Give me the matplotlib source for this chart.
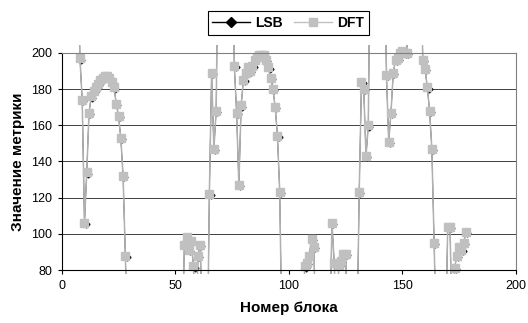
import matplotlib
matplotlib.use("Agg")
import matplotlib.pyplot as plt
import matplotlib.transforms as mtransforms
from matplotlib.patches import Rectangle
from matplotlib.lines import Line2D

plt.rcParams['font.family'] = ['Liberation Sans', 'DejaVu Sans']

# block numbers and metric values (values outside 80..200 are only seen as clipped lines)
blocks = [7, 8, 9, 10, 11, 12, 13, 14, 15, 16, 17, 18, 19, 20, 21, 22, 23, 24, 25, 26, 27, 28, 29,
          52, 53, 54, 55, 56, 57, 58, 59, 60, 61, 62, 63, 64, 65, 66, 67, 68, 69,
          75, 76, 77, 78, 79, 80, 81, 82, 83, 84, 85, 86, 87, 88, 89, 90, 91, 92, 93, 94, 95, 96, 97,
          106, 107, 108, 109, 110, 111, 112,
          118, 119, 120, 121, 122, 123, 124, 125, 126,
          130, 131, 132, 133, 134, 135, 136,
          142, 143, 144, 145, 146, 147, 148, 149, 150, 151, 152, 153,
          158, 159, 160, 161, 162, 163, 164, 165,
          169, 170, 171, 172, 173, 174, 175, 176, 177, 178]
dft = [260, 197, 174, 106, 134, 167, 176, 179, 181, 183, 185, 186, 187, 187, 186, 184, 181, 172, 165, 153, 132, 88, 40,
       40, 40, 94, 98, 91, 96, 82, 40, 88, 94, 40, 40, 20, 122, 189, 147, 168, 280,
       280, 193, 167, 127, 171, 185, 189, 192, 190, 193, 196, 198, 199, 199, 199, 196, 192, 186, 180, 170, 154, 123, 40,
       40, 82, 84, 88, 97, 93, 40,
       40, 106, 84, 40, 83, 85, 89, 89, 40,
       40, 123, 184, 180, 143, 160, 280,
       280, 188, 151, 167, 189, 196, 197, 200, 201, 200, 200, 280,
       280, 196, 191, 181, 168, 147, 95, 40,
       40, 104, 104, 40, 81, 88, 93, 91, 95, 101]
lsb = list(dft)

fig = plt.figure(figsize=(5.28, 3.23), dpi=100)
ax = fig.add_axes([0.117, 0.164, 0.860, 0.672])

clip = Rectangle((0, -0.02), 1, 1.055, transform=ax.transAxes)

# LSB line lies under the DFT line; its markers peek out a pixel below-right
shift = mtransforms.offset_copy(ax.transData, fig=fig, x=1.2, y=-1.2, units='dots')
l0, = ax.plot(blocks, lsb, color='black', lw=0.6)
l1, = ax.plot(blocks, lsb, ls='none', marker='D', ms=3.5,
              mfc='black', mec='black', transform=shift)
l2, = ax.plot(blocks, dft, color='#b0b0b0', lw=1.1, marker='s', ms=5.5,
              mfc='#c0c0c0', mec='#c0c0c0')
for ln in (l0, l1, l2):
    ln.set_clip_path(clip)

ax.set_xlim(0, 200)
ax.set_ylim(80, 200)
ax.set_xticks([0, 50, 100, 150, 200])
ax.set_yticks(range(80, 201, 20))
ax.yaxis.grid(True, color='#404040', lw=0.7)
ax.set_axisbelow(True)
for s in ('top', 'right'):
    ax.spines[s].set_color('#808080')
for s in ('left', 'bottom'):
    ax.spines[s].set_color('black')
ax.tick_params(direction='out', length=3, labelsize=9, colors='black', pad=4)

ax.set_xlabel('Номер блока', fontsize=11, fontweight='bold', labelpad=7)
ax.set_ylabel('Значение метрики', fontsize=11, fontweight='bold', labelpad=4)

h1 = Line2D([], [], color='black', lw=1, marker='D', ms=5, mfc='black', mec='black')
h2 = Line2D([], [], color='#c0c0c0', lw=1, marker='s', ms=6, mfc='#c0c0c0', mec='#c0c0c0')
leg = fig.legend([h1, h2], ['LSB', 'DFT'], loc='center', bbox_to_anchor=(0.546, 0.929),
                 ncol=2, fancybox=False, edgecolor='black', framealpha=1,
                 prop={'weight': 'bold', 'size': 10}, handlelength=2.7,
                 columnspacing=0.8, handletextpad=0.4, borderpad=0.35)
leg.get_frame().set_linewidth(0.8)

fig.savefig('out.png', dpi=100)
